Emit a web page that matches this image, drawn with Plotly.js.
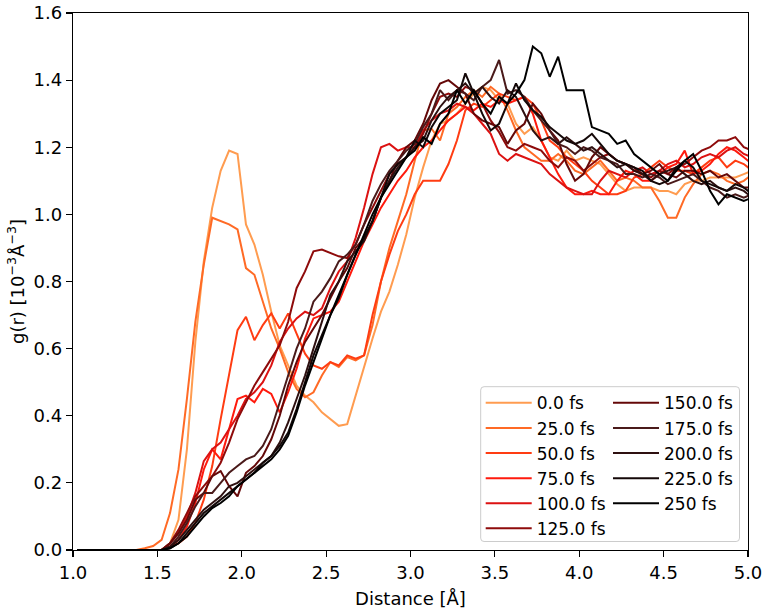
<!DOCTYPE html>
<html>
<head>
<meta charset="utf-8">
<script src="https://cdn.plot.ly/plotly-3.0.1.min.js"></script>
<style>
  html, body { margin: 0; padding: 0; background: #fff; }
  #chart { width: 766px; height: 611px; }
</style>
</head>
<body>
<div id="chart"></div>
<script>
// Distance grid (bin centres, Å)
const distance = [1.025,1.075,1.125,1.175,1.225,1.275,1.325,1.375,1.425,1.475,
  1.525,1.575,1.625,1.675,1.725,1.775,1.825,1.875,1.925,1.975,
  2.025,2.075,2.125,2.175,2.225,2.275,2.325,2.375,2.425,2.475,
  2.525,2.575,2.625,2.675,2.725,2.775,2.825,2.875,2.925,2.975,
  3.025,3.075,3.125,3.175,3.225,3.275,3.325,3.375,3.425,3.475,
  3.525,3.575,3.625,3.675,3.725,3.775,3.825,3.875,3.925,3.975,
  4.025,4.075,4.125,4.175,4.225,4.275,4.325,4.375,4.425,4.475,
  4.525,4.575,4.625,4.675,4.725,4.775,4.825,4.875,4.925,4.975,5.025];

const seriesNames = ["0.0 fs","25.0 fs","50.0 fs","75.0 fs","100.0 fs","125.0 fs",
                     "150.0 fs","175.0 fs","200.0 fs","225.0 fs","250 fs"];

const g0 = [0,0,0,0,0,0,0,0,0,0,
  0.0,0.02,0.09,0.30,0.62,0.86,1.02,1.13,1.19,1.18,
  0.97,0.91,0.82,0.71,0.61,0.55,0.49,0.46,0.44,0.41,
  0.39,0.37,0.375,0.46,0.55,0.63,0.71,0.77,0.85,0.94,
  1.05,1.14,1.22,1.27,1.28,1.30,1.33,1.36,1.38,1.37,
  1.34,1.33,1.27,1.24,1.26,1.22,1.17,1.16,1.19,1.16,
  1.17,1.16,1.15,1.12,1.09,1.07,1.08,1.08,1.08,1.07,
  1.07,1.06,1.09,1.10,1.10,1.11,1.11,1.11,1.11,1.12,1.13];

const g25 = [0,0,0,0,0,0,0,0,0.005,0.012,
  0.03,0.11,0.24,0.45,0.68,0.85,0.99,0.98,0.97,0.955,
  0.84,0.82,0.74,0.66,0.60,0.53,0.48,0.455,0.47,0.52,
  0.56,0.545,0.575,0.565,0.58,0.67,0.80,0.90,0.98,1.06,
  1.16,1.25,1.255,1.22,1.30,1.32,1.35,1.37,1.35,1.38,
  1.36,1.31,1.25,1.20,1.18,1.16,1.16,1.18,1.16,1.13,
  1.12,1.14,1.16,1.13,1.10,1.11,1.10,1.08,1.08,1.04,
  0.99,0.99,1.05,1.09,1.12,1.13,1.12,1.10,1.09,1.10,1.12];

const g50 = [0,0,0,0,0,0,0,0,0,0,
  0.0,0.01,0.02,0.04,0.08,0.15,0.25,0.39,0.52,0.655,
  0.695,0.625,0.67,0.705,0.66,0.705,0.645,0.585,0.55,0.54,
  0.56,0.55,0.58,0.57,0.58,0.70,0.80,0.88,0.95,1.00,
  1.06,1.10,1.10,1.10,1.15,1.22,1.31,1.33,1.32,1.34,
  1.36,1.35,1.34,1.35,1.33,1.28,1.22,1.20,1.17,1.15,
  1.13,1.10,1.08,1.06,1.06,1.07,1.11,1.12,1.14,1.16,
  1.14,1.13,1.13,1.12,1.14,1.16,1.17,1.14,1.16,1.15,1.13];

const g75 = [0,0,0,0,0,0,0,0,0,0,
  0.0,0.01,0.03,0.07,0.14,0.24,0.30,0.27,0.36,0.45,
  0.46,0.44,0.48,0.465,0.41,0.47,0.54,0.63,0.69,0.70,
  0.71,0.74,0.80,0.86,0.92,0.97,1.02,1.06,1.10,1.13,
  1.17,1.20,1.22,1.25,1.28,1.30,1.32,1.31,1.33,1.32,
  1.34,1.33,1.34,1.35,1.30,1.22,1.17,1.12,1.08,1.06,
  1.06,1.07,1.06,1.06,1.10,1.13,1.12,1.10,1.10,1.12,
  1.14,1.15,1.19,1.12,1.13,1.15,1.18,1.20,1.19,1.17,1.15];

const g100 = [0,0,0,0,0,0,0,0,0,0,
  0.0,0.02,0.05,0.10,0.17,0.265,0.30,0.32,0.36,0.40,
  0.45,0.47,0.50,0.55,0.62,0.66,0.69,0.71,0.70,0.72,
  0.78,0.83,0.86,0.93,1.02,1.12,1.20,1.21,1.19,1.20,
  1.20,1.25,1.28,1.30,1.31,1.33,1.32,1.30,1.27,1.24,
  1.18,1.16,1.18,1.17,1.16,1.15,1.12,1.10,1.08,1.07,
  1.06,1.06,1.10,1.13,1.12,1.11,1.13,1.14,1.12,1.13,
  1.15,1.16,1.14,1.15,1.17,1.18,1.17,1.19,1.20,1.18,1.17];

const g125 = [0,0,0,0,0,0,0,0,0,0,
  0.0,0.02,0.06,0.11,0.16,0.19,0.22,0.26,0.32,0.39,
  0.44,0.49,0.53,0.57,0.61,0.68,0.78,0.83,0.89,0.895,
  0.885,0.875,0.87,0.91,0.97,1.02,1.07,1.12,1.15,1.17,
  1.20,1.24,1.30,1.35,1.36,1.35,1.38,1.37,1.33,1.28,
  1.245,1.20,1.19,1.21,1.20,1.19,1.16,1.14,1.17,1.16,
  1.13,1.15,1.17,1.18,1.16,1.15,1.13,1.12,1.11,1.13,
  1.12,1.14,1.15,1.17,1.19,1.20,1.22,1.22,1.23,1.20,1.19];

const g150 = [0,0,0,0,0,0,0,0,0,0,
  0.0,0.02,0.05,0.09,0.15,0.17,0.22,0.235,0.19,0.16,
  0.23,0.25,0.28,0.33,0.40,0.49,0.56,0.62,0.66,0.70,
  0.75,0.80,0.84,0.90,0.93,0.98,1.05,1.10,1.16,1.20,
  1.22,1.27,1.34,1.39,1.40,1.38,1.36,1.30,1.28,1.27,
  1.26,1.21,1.25,1.27,1.33,1.30,1.25,1.22,1.15,1.10,
  1.12,1.17,1.20,1.18,1.16,1.15,1.14,1.12,1.13,1.15,
  1.12,1.11,1.13,1.13,1.12,1.13,1.11,1.12,1.10,1.08,1.08];

const g175 = [0,0,0,0,0,0,0,0,0,0,
  0.0,0.01,0.04,0.08,0.13,0.17,0.17,0.20,0.23,0.25,
  0.27,0.28,0.31,0.36,0.44,0.52,0.60,0.66,0.74,0.77,
  0.81,0.86,0.88,0.91,0.97,1.04,1.09,1.13,1.16,1.19,
  1.21,1.26,1.30,1.37,1.34,1.37,1.36,1.34,1.38,1.40,
  1.46,1.36,1.37,1.35,1.31,1.28,1.25,1.21,1.20,1.18,
  1.20,1.19,1.17,1.16,1.15,1.12,1.12,1.11,1.12,1.11,
  1.09,1.10,1.11,1.12,1.10,1.08,1.07,1.05,1.06,1.05,1.06];

const g200 = [0,0,0,0,0,0,0,0,0,0,
  0.0,0.01,0.03,0.06,0.09,0.12,0.14,0.16,0.19,0.20,
  0.22,0.24,0.26,0.28,0.32,0.38,0.45,0.52,0.60,0.68,
  0.76,0.80,0.86,0.89,0.92,0.98,1.05,1.10,1.14,1.17,
  1.20,1.22,1.28,1.32,1.35,1.37,1.39,1.36,1.38,1.35,
  1.33,1.37,1.35,1.30,1.25,1.22,1.23,1.21,1.23,1.21,
  1.19,1.20,1.18,1.16,1.14,1.15,1.13,1.12,1.10,1.12,
  1.13,1.14,1.12,1.10,1.09,1.10,1.08,1.07,1.08,1.07,1.05];

const g225 = [0,0,0,0,0,0,0,0,0,0,
  0.0,0.005,0.02,0.05,0.08,0.11,0.13,0.15,0.17,0.19,
  0.21,0.23,0.26,0.28,0.31,0.35,0.42,0.50,0.58,0.64,
  0.70,0.75,0.82,0.88,0.93,0.98,1.05,1.12,1.15,1.17,
  1.22,1.20,1.26,1.30,1.32,1.34,1.42,1.36,1.30,1.25,
  1.27,1.33,1.39,1.34,1.31,1.29,1.26,1.24,1.22,1.21,
  1.22,1.24,1.21,1.18,1.16,1.15,1.14,1.13,1.10,1.09,
  1.10,1.14,1.16,1.14,1.10,1.09,1.08,1.07,1.09,1.08,1.06];

const g250 = [0,0,0,0,0,0,0,0,0,0,
  0.0,0.005,0.02,0.04,0.07,0.10,0.125,0.14,0.16,0.19,
  0.21,0.23,0.25,0.27,0.30,0.34,0.41,0.49,0.56,0.63,
  0.70,0.76,0.82,0.88,0.94,1.00,1.05,1.09,1.13,1.17,
  1.19,1.23,1.21,1.27,1.30,1.37,1.33,1.37,1.33,1.30,
  1.35,1.33,1.36,1.40,1.50,1.48,1.41,1.47,1.37,1.37,
  1.37,1.26,1.25,1.24,1.21,1.22,1.18,1.16,1.14,1.12,
  1.10,1.13,1.16,1.18,1.13,1.07,1.03,1.06,1.05,1.04,1.05];

const seriesValues = [g0,g25,g50,g75,g100,g125,g150,g175,g200,g225,g250];

const xTickVals = [1.0,1.5,2.0,2.5,3.0,3.5,4.0,4.5,5.0];
const xTickText = ["1.0","1.5","2.0","2.5","3.0","3.5","4.0","4.5","5.0"];
const yTickVals = [0.0,0.2,0.4,0.6,0.8,1.0,1.2,1.4,1.6];
const yTickText = ["0.0","0.2","0.4","0.6","0.8","1.0","1.2","1.4","1.6"];

const colors = ["#ff9c50","#ff6a25","#ff3c12","#ff1a0d","#dc1212","#8e0b0b",
                "#640808","#4a1a1a","#2e1010","#140808","#000000"];

const FONT = "DejaVu Sans, Arial, sans-serif";

const traces = seriesValues.map((vals, i) => ({
  type: "scatter",
  mode: "lines",
  x: distance,
  y: vals,
  name: seriesNames[i],
  legendgroup: "g" + i,
  legend: i < 6 ? "legend" : "legend2",
  line: { color: colors[i], width: 2 },
  hoverinfo: "skip"
}));

// legend frame (matplotlib-style rounded box)
const bx0 = 0.604, bx1 = 0.9874, by0 = 0.0158, by1 = 0.3041, rx = 0.005, ry = 0.0063;
const framePath = `M${bx0+rx},${by0} L${bx1-rx},${by0} Q${bx1},${by0} ${bx1},${by0+ry} ` +
  `L${bx1},${by1-ry} Q${bx1},${by1} ${bx1-rx},${by1} L${bx0+rx},${by1} Q${bx0},${by1} ${bx0},${by1-ry} ` +
  `L${bx0},${by0+ry} Q${bx0},${by0} ${bx0+rx},${by0} Z`;

const legendCommon = {
  xanchor: "left", yanchor: "top", y: 0.3067,
  bgcolor: "rgba(0,0,0,0)", borderwidth: 0,
  font: { family: FONT, size: 17, color: "#000" },
  traceorder: "grouped", tracegroupgap: 0, itemwidth: 46
};

const axisCommon = {
  ticks: "outside", ticklen: 6, tickwidth: 1.2, tickcolor: "#000",
  showline: true, linecolor: "#000", linewidth: 1.2, mirror: true,
  showgrid: false, zeroline: false, automargin: false,
  tickfont: { family: FONT, size: 18, color: "#000" }
};

const layout = {
  width: 766, height: 611,
  margin: { l: 73, r: 18, t: 13, b: 61 },
  paper_bgcolor: "#fff", plot_bgcolor: "#fff",
  font: { family: FONT, color: "#000" },
  showlegend: true,
  xaxis: Object.assign({}, axisCommon, {
    range: [1, 5], tickmode: "array", tickvals: xTickVals, ticktext: xTickText,
    title: { text: "Distance [Å]", font: { family: FONT, size: 18, color: "#000" }, standoff: 10 }
  }),
  yaxis: Object.assign({}, axisCommon, {
    range: [0, 1.6], tickmode: "array", tickvals: yTickVals, ticktext: yTickText,
    title: { text: "g(r) [10<sup>−3</sup>Å<sup>−3</sup>]", font: { family: FONT, size: 18, color: "#000" }, standoff: 4 }
  }),
  legend: Object.assign({}, legendCommon, { x: 0.604 }),
  legend2: Object.assign({}, legendCommon, { x: 0.7926 }),
  shapes: [{
    type: "path", xref: "paper", yref: "paper", path: framePath,
    fillcolor: "rgba(255,255,255,0.8)", line: { color: "#cccccc", width: 1 }, layer: "above"
  }]
};

Plotly.newPlot("chart", traces, layout, { displayModeBar: false, staticPlot: true });
</script>
</body>
</html>
